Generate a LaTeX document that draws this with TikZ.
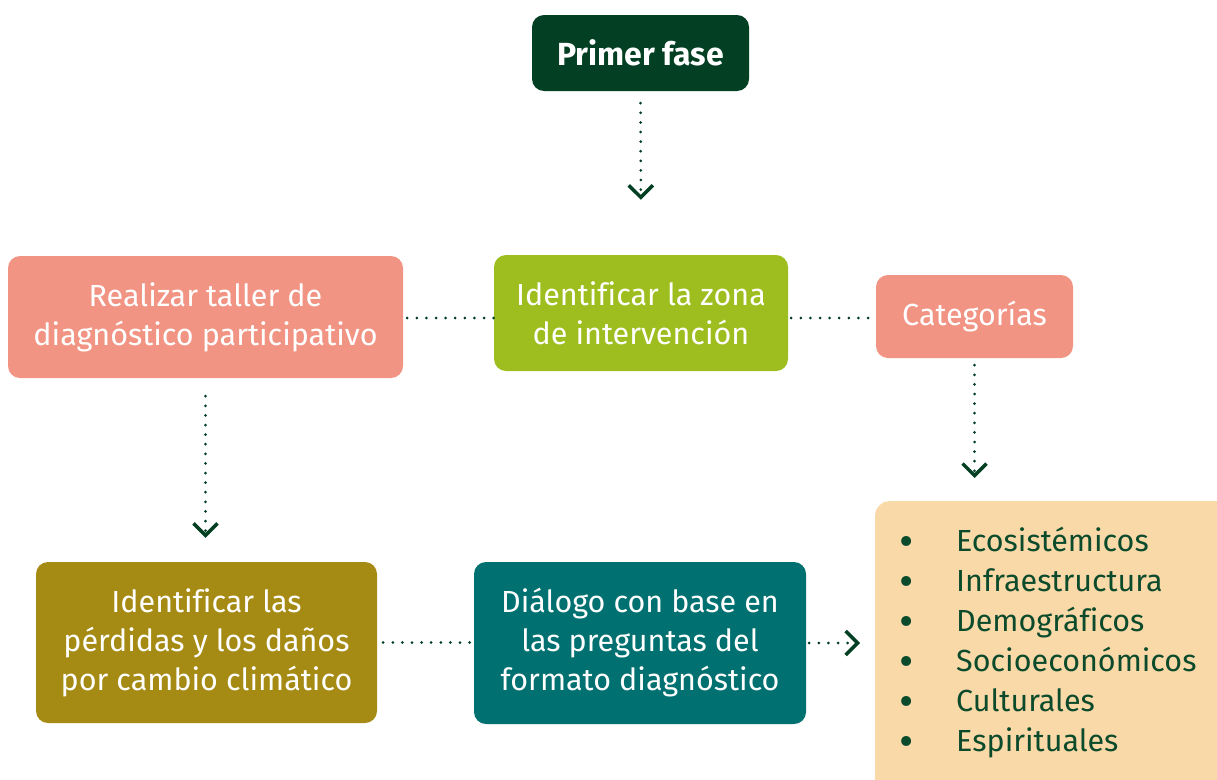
\documentclass[tikz,border=0pt]{standalone}
\usepackage{fontspec}
\setmainfont{Fira Sans}[Ligatures=NoCommon]
\usetikzlibrary{arrows.meta}
\definecolor{dgreen}{HTML}{033F22}
\definecolor{salmon}{HTML}{F19483}
\definecolor{lime}{HTML}{9DBE1E}
\definecolor{olive}{HTML}{A58A14}
\definecolor{teal2}{HTML}{007070}
\definecolor{peach}{HTML}{FAD9A8}
\definecolor{txtgreen}{HTML}{0B4A2B}
\newcommand{\bul}{\makebox[57pt][l]{\fontsize{44}{40}\selectfont\raisebox{-5pt}{\textbullet}}}
\begin{document}
\begin{tikzpicture}[x=1pt,y=-1pt,
  box/.style={rounded corners=12pt, inner sep=0pt, align=center, text=white,
    font=\fontsize{30.5}{39}\selectfont},
  dotline/.style={draw=dgreen, line width=3pt, line cap=round, dash pattern=on 0pt off 9.6pt},
  arr/.style={dotline, -{Straight Barb[length=12pt,width=24pt,line cap=butt,line width=3.5pt]}}
]
\useasboundingbox (0,0) rectangle (1217,779);
% boxes
\node[box, fill=dgreen, minimum width=217pt, minimum height=76pt,
  font=\fontsize{32}{36}\selectfont\bfseries] (pf) at (640.5,53) {Primer fase};
\node[box, fill=salmon, minimum width=395pt, minimum height=122pt] (rt) at (205.5,317) {Realizar taller de\\diagnóstico participativo};
\node[box, fill=lime, minimum width=294pt, minimum height=116pt] (iz) at (641,313) {Identificar la zona\\de intervención};
\node[box, fill=salmon, minimum width=197pt, minimum height=83pt] (cat) at (974.5,316.5) {Categorías};
\node[box, fill=olive, minimum width=341pt, minimum height=161pt] (ip) at (206.5,642.5) {Identificar las\\pérdidas y los daños\\por cambio climático};
\node[box, fill=teal2, minimum width=332pt, minimum height=162pt] (dl) at (640,643) {Diálogo con base en\\las preguntas del\\formato diagnóstico};
\node[fill=peach, rounded corners=14pt, minimum width=365pt, minimum height=299pt, inner sep=0pt, anchor=north west] (lb) at (875,501) {};
\node[anchor=west, inner sep=0pt, text=txtgreen, align=left,
  font=\fontsize{30.5}{40}\selectfont] (list) at (899,643) {%
  \bul Ecosistémicos\\
  \bul Infraestructura\\
  \bul Demográficos\\
  \bul Socioeconómicos\\
  \bul Culturales\\
  \bul Espirituales};

% connectors
\draw[arr, shorten <=12pt, shorten >=55pt] (pf.south) -- (iz.north);
\draw[arr, shorten <=18pt, shorten >=24pt] (rt.south) -- (rt.south |- ip.north);
\draw[arr, shorten <=7pt, shorten >=23pt] (cat.south) -- (cat.south |- lb.north);
\draw[arr, shorten <=3pt, shorten >=15pt] (dl.east) -- (dl.east -| lb.west);
\draw[dotline, shorten <=4pt] ([yshift=-1pt]rt.east) -- ([yshift=-1pt]rt.east -| iz.west);
\draw[dotline, shorten <=3pt] ([yshift=-5pt]iz.east) -- ([yshift=-5pt]iz.east -| cat.west);
\draw[dotline, shorten <=6pt] (ip.east) -- (ip.east -| dl.west);
\end{tikzpicture}
\end{document}
